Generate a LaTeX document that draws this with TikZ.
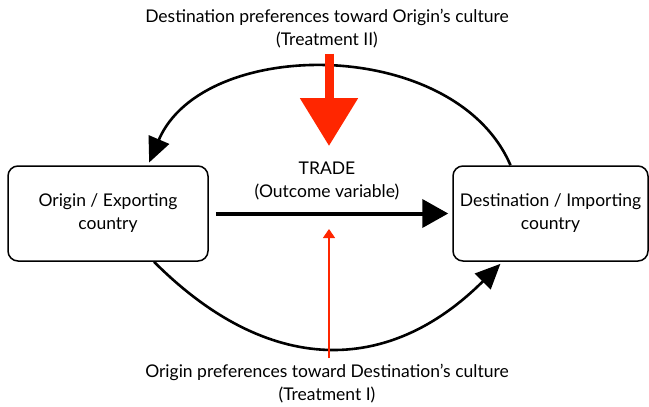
\documentclass[tikz,border=0pt]{standalone}
\usepackage{fontspec}
\setmainfont{Lato}
\usepackage{tikz}
\usetikzlibrary{arrows.meta}
\definecolor{sketchred}{RGB}{255,38,0}

\begin{document}
\begin{tikzpicture}[x=1pt,y=-1pt,font=\fontsize{17.5}{23}\selectfont,
        country/.style={draw, black, line width=1.5pt, rounded corners=10pt, align=center, minimum height=95pt, inner sep=0pt},
        caption/.style={align=center, inner sep=2pt},
        flow/.style={black, line width=2.6pt, -{Triangle[length=25pt,width=22pt]}},
        push/.style={sketchred, -{Triangle[length=48pt,width=56pt]}}]

        \useasboundingbox (0,0) rectangle (649,407);

        \node[country, minimum width=200pt] (origin) at (108,213.5) {Origin / Exporting\\country};
        \node[country, minimum width=195pt] (dest) at (550.5,213.5) {Destination / Importing\\country};
        \node[caption] (trade) at (327,181) {TRADE\\(Outcome variable)};
        \node[caption] (prefdest) at (327,29) {Destination preferences toward Origin's culture\\(Treatment II)};
        \node[caption] (preforig) at (327,384) {Origin preferences toward Destination's culture\\(Treatment I)};

        \coordinate (toptip) at (329,146);
        \coordinate (bottip) at (329,229);

        \draw[flow, line width=4pt, -{Triangle[length=26pt,width=28pt]}, shorten <=7pt, shorten >=4pt] (origin.east) -- (dest.west);
        \draw[flow, shorten >=3pt] ([xshift=-40pt]dest.north) .. controls (455,36) and (203,36) .. ([xshift=40pt]origin.north);
        \draw[flow, shorten >=3pt] ([xshift=46pt]origin.south) .. controls (268,376) and (388,376) .. ([xshift=-48pt]dest.south);

        \draw[push, line width=9pt, shorten <=3pt] (prefdest.south -| toptip) -- (toptip);
        \draw[push, line width=1.3pt, -{Triangle[length=9pt,width=12pt]}, shorten <=4pt] (preforig.north -| bottip) -- (bottip);
\end{tikzpicture}
\end{document}
